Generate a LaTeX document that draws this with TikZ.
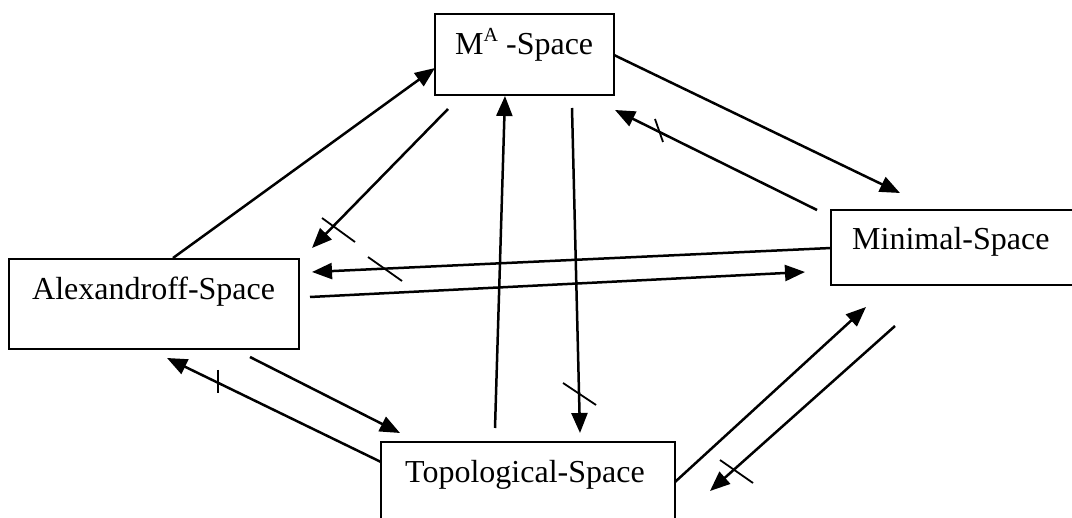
\documentclass[tikz,border=0pt]{standalone}
\usepackage{fontspec}
\setmainfont{Liberation Serif}
\usetikzlibrary{arrows.meta}
\begin{document}
\begin{tikzpicture}[x=1pt,y=-1pt,
  box/.style={draw,line width=1.8pt,inner sep=0pt,outer sep=0pt,anchor=north west},
  lbl/.style={anchor=base west,inner sep=0pt,font=\fontsize{32}{38}\selectfont},
  conn/.style={line width=2.5pt,-{Triangle[length=20pt,width=16pt]}},
  tickmark/.style={line width=1.8pt}]
\useasboundingbox (0,0) rectangle (1072,518);
\clip (0,0) rectangle (1072,518);
% boxes
\node[box,minimum width=179pt,minimum height=81pt] (ma) at (435,14) {};
\node[box,minimum width=250pt,minimum height=75pt] (min) at (831,210) {};
\node[box,minimum width=290pt,minimum height=90pt] (alex) at (9,259) {};
\node[box,minimum width=294pt,minimum height=110pt] (topo) at (381,442) {};
% labels
\node[lbl] (maT) at (455,55) {M\raisebox{13pt}{\fontsize{20}{22}\selectfont A} -Space};
\node[lbl] (minT) at (852,250) {Minimal-Space};
\node[lbl] (alexT) at (32,300) {Alexandroff-Space};
\node[lbl] (topoT) at (405,483) {Topological-Space};
% connector end points
\coordinate (a1s) at (173,258);  \coordinate (a1e) at (435,68);
\coordinate (a2s) at (448,109);  \coordinate (a2e) at (312,248);
\coordinate (a3s) at (572,108);  \coordinate (a3e) at (580,433);
\coordinate (a4s) at (495,428);  \coordinate (a4e) at (505,96);
\coordinate (a5s) at (614,55);   \coordinate (a5e) at (900,193);
\coordinate (a6s) at (817,210);  \coordinate (a6e) at (615,110);
\coordinate (a7s) at (831,248);  \coordinate (a7e) at (312,272);
\coordinate (a8s) at (310,297);  \coordinate (a8e) at (805,272);
\coordinate (a9s) at (381,462);  \coordinate (a9e) at (167,358);
\coordinate (a10s) at (250,357); \coordinate (a10e) at (400,433);
\coordinate (a11s) at (675,482); \coordinate (a11e) at (866,307);
\coordinate (a12s) at (895,326); \coordinate (a12e) at (710,491);
% connectors
\draw[conn] (a1s) -- (a1e);
\draw[conn] (a2s) -- (a2e);
\draw[conn] (a3s) -- (a3e);
\draw[conn] (a4s) -- (a4e);
\draw[conn] (a5s) -- (a5e);
\draw[conn] (a6s) -- (a6e);
\draw[conn] (a7s) -- (a7e);
\draw[conn] (a8s) -- (a8e);
\draw[conn] (a9s) -- (a9e);
\draw[conn] (a10s) -- (a10e);
\draw[conn] (a11s) -- (a11e);
\draw[conn] (a12s) -- (a12e);
% negation ticks
\coordinate (t2a) at (322,218); \coordinate (t2b) at (355,242);
\coordinate (t3a) at (563,383); \coordinate (t3b) at (596,405);
\coordinate (t6a) at (655,119); \coordinate (t6b) at (663,142);
\coordinate (t7a) at (368,257); \coordinate (t7b) at (402,281);
\coordinate (t9a) at (218,370); \coordinate (t9b) at (218,393);
\coordinate (t12a) at (720,460); \coordinate (t12b) at (753,483);
\draw[tickmark] (t2a) -- (t2b);
\draw[tickmark] (t3a) -- (t3b);
\draw[tickmark] (t6a) -- (t6b);
\draw[tickmark] (t7a) -- (t7b);
\draw[tickmark] (t9a) -- (t9b);
\draw[tickmark] (t12a) -- (t12b);
\end{tikzpicture}
\end{document}
